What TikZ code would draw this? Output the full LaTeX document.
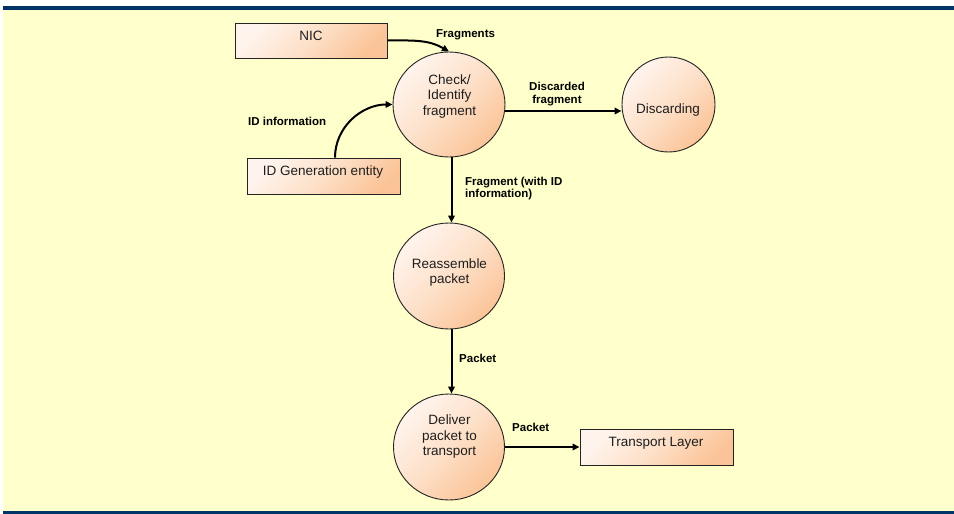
\documentclass[tikz,border=0pt]{standalone}
\usepackage{fontspec}
\setmainfont{Liberation Sans}
\usetikzlibrary{shapes.geometric,arrows.meta,calc}

\definecolor{bgyellow}{RGB}{255,255,204}
\definecolor{barblue}{RGB}{0,51,102}
\definecolor{peachlight}{RGB}{255,244,237}
\definecolor{peachmid}{RGB}{253,224,200}
\definecolor{peachdark}{RGB}{251,196,152}
\definecolor{edge}{RGB}{35,35,35}
\definecolor{inktext}{RGB}{30,30,30}

\begin{document}
\begin{tikzpicture}[x=1pt,y=-1pt,
  proc/.style={ellipse, draw=edge, line width=0.9pt,
    top color=peachlight, bottom color=peachdark, middle color=peachmid,
    shading angle=45, inner sep=0pt},
  ext/.style={rectangle, draw=edge, line width=0.9pt,
    top color=peachlight, bottom color=peachdark, middle color=peachmid,
    shading angle=45, inner sep=0pt},
  ntext/.style={align=center, inner sep=0pt, text=inktext,
    font=\fontsize{13.5}{15.2}\selectfont},
  flowlbl/.style={inner sep=0pt,
    font=\bfseries\fontsize{11.5}{12.6}\selectfont},
  flow/.style={draw=black, line width=2pt,
    -{Triangle[length=7pt,width=6.5pt]}},
]
% page frame: white margin, yellow field, blue rules
\useasboundingbox (0,0) rectangle (954,514);
\fill[white] (0,0) rectangle (954,514);
\fill[bgyellow] (3,10) rectangle (954,511);
\fill[barblue] (3,6) rectangle (954,10);
\fill[barblue] (3,511) rectangle (954,514);

% external entities
\node[ext, minimum width=152, minimum height=35] (nic) at (311,40.5) {};
\node[ext, minimum width=153, minimum height=36] (idg) at (323.5,176) {};
\node[ext, minimum width=153, minimum height=36] (tl)  at (656.5,447) {};

% processes
\node[proc, minimum width=112, minimum height=105] (chk)  at (449,104.5) {};
\node[proc, minimum width=93,  minimum height=95]  (disc) at (668.5,104.5) {};
\node[proc, minimum width=111, minimum height=106] (reas) at (449,276) {};
\node[proc, minimum width=111, minimum height=106] (dlv)  at (449,447) {};

% texts inside shapes
\node[ntext, anchor=base] (nict)  at (311,40.7)  {NIC};
\node[ntext, anchor=base] (idgt)  at (323,175.7) {ID Generation entity};
\node[ntext, anchor=base] (tlt)   at (656,446.7) {Transport Layer};
\node[ntext, anchor=base] (disct) at (668,113.3) {Discarding};
\node[ntext] (chkt)  at (449.5,96.5)  {Check/\\Identify\\fragment};
\node[ntext] (reast) at (449.5,272.2) {Reassemble\\packet};
\node[ntext] (dlvt)  at (449.5,436.7) {Deliver\\packet to\\transport};

% data flows
\draw[flow] (nic.east) to[out=0, in=150] (chk.north);
\draw[flow] ($(idg.north)+(11.5,0)$) to[out=90, in=180] (chk.west);
\draw[flow] ([yshift=-6.5pt]chk.east) -- ([yshift=-6.5pt]disc.west);
\draw[flow] ([xshift=2.5pt]chk.south) -- ([xshift=2.5pt]reas.north);
\draw[flow] ([xshift=2.5pt]reas.south) -- ([xshift=2.5pt]dlv.north);
\draw[flow] (dlv.east) -- (tl.west);

% flow labels
\node[flowlbl, anchor=base west] (lfrag) at (436,37.7) {Fragments};
\node[flowlbl, anchor=base west] (lid)   at (248,125.3) {ID information};
\node[flowlbl, align=center] (ldisc) at (557,94.3) {Discarded\\fragment};
\node[flowlbl, align=left, anchor=north west] (lfid) at (465,176.6)
  {Fragment (with ID\\information)};
\node[flowlbl, anchor=base west] (lpk1) at (459,362) {Packet};
\node[flowlbl, anchor=base west] (lpk2) at (512,431.7) {Packet};
\end{tikzpicture}
\end{document}
